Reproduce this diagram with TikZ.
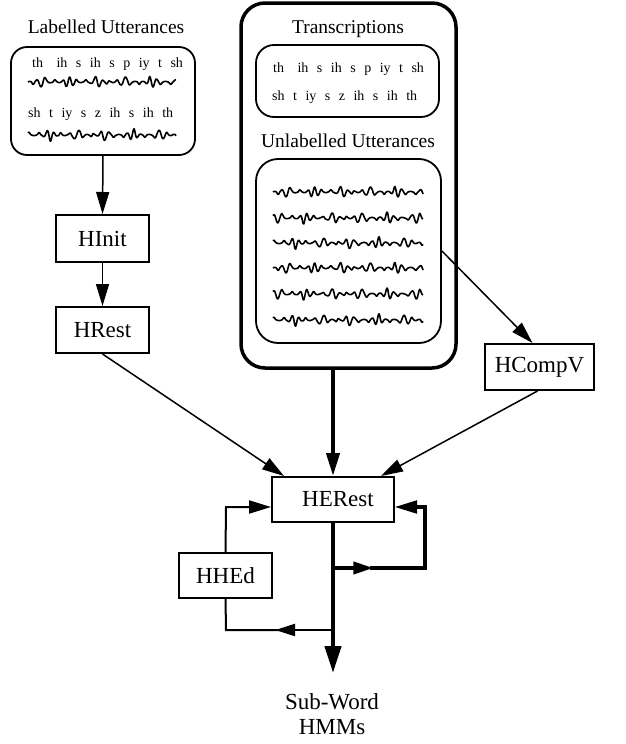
\documentclass[tikz,border=0pt]{standalone}
\usepackage{fontspec}
\setmainfont{Liberation Serif}
\usetikzlibrary{arrows.meta,calc}
\newcommand{\phonline}[1]{{\spaceskip=8.5pt\relax #1}}
\tikzset{
  lbl/.style={font=\fontsize{19.5}{22}\selectfont, inner sep=0pt, anchor=base},
  phon/.style={font=\fontsize{14}{16}\selectfont, inner sep=0pt, anchor=base west},
  rbox/.style={draw, line width=1.8pt, rounded corners=16pt, inner sep=0pt},
  bigbox/.style={draw, line width=3.5pt, rounded corners=24pt, inner sep=0pt},
  tool/.style={draw, line width=2pt, inner sep=0pt, font=\fontsize{23}{26}\selectfont},
  arr/.style={line width=1.5pt, -{Triangle[length=22pt,width=13pt]}},
  thickarr/.style={line width=4pt, -{Triangle[length=23pt,width=13pt]}},
  midarr/.style={-{Triangle[length=20pt,width=12pt]}},
  pics/wave/.style={code={\draw[line width=1.6pt, line join=round]
    plot[domain=0:#1, samples=220, smooth]
    (\x, {-(0.6+4.4*(sin(6.5*\x+\wph))^6+1.8*(sin(17*\x+2*\wph))^8)*sin(45*\x+60*sin(9*\x+\wph))});}},
}
\newcommand{\wph}{0}
\begin{document}
\begin{tikzpicture}[x=1pt,y=-1pt]
\useasboundingbox (0,0) rectangle (625,744);

% Labelled utterances
\node[lbl] (ltitle) at (106,33) {Labelled Utterances};
\node[rbox, minimum width=184pt, minimum height=108pt] (lbox) at (103,101) {};
\node[phon] (lp1) at (32,67) {\phonline{th\hspace{5pt} ih s ih s p iy t sh}};
\node[phon] (lp2) at (28,117) {\phonline{sh t iy s z ih s ih th}};
\renewcommand{\wph}{0}\pic at (28,82) {wave=148};
\renewcommand{\wph}{130}\pic at (28,135) {wave=148};

% left chain
\node[tool, minimum width=93pt, minimum height=47pt] (hinit) at (102.5,238.5) {HInit};
\node[tool, minimum width=93pt, minimum height=46pt] (hrest) at (102.5,330) {HRest};

% big box
\node[bigbox, minimum width=215pt, minimum height=365pt] (big) at (348.5,185.5) {};
\node[lbl] (ttitle) at (348,33) {Transcriptions};
\node[rbox, minimum width=183pt, minimum height=72pt, rounded corners=18pt] (tbox) at (347.5,81) {};
\node[phon] (tp1) at (273,72) {\phonline{th\hspace{5pt} ih s ih s p iy t sh}};
\node[phon] (tp2) at (272,100) {\phonline{sh t iy s z ih s ih th}};
\node[lbl] (utitle) at (348,147) {Unlabelled Utterances};
\node[rbox, minimum width=185pt, minimum height=184pt, rounded corners=22pt] (ubox) at (348.5,251) {};
\renewcommand{\wph}{0}\pic at (273,192) {wave=150};
\renewcommand{\wph}{60}\pic at (273,218) {wave=150};
\renewcommand{\wph}{130}\pic at (273,243) {wave=150};
\renewcommand{\wph}{0}\pic at (273,268) {wave=150};
\renewcommand{\wph}{60}\pic at (273,294) {wave=150};
\renewcommand{\wph}{130}\pic at (273,320) {wave=150};

% right
\node[tool, minimum width=109pt, minimum height=46pt] (hcompv) at (539.5,367) {HCompV};

% central
\node[tool, minimum width=122pt, minimum height=45pt] (herest) at (333,499.5) {\hspace{10pt}HERest};
\node[tool, minimum width=93pt, minimum height=45pt] (hhed) at (225.5,575.5) {HHEd};
\node[font=\fontsize{23}{25}\selectfont, align=center, inner sep=0pt] (out) at (332,714) {Sub-Word\\HMMs};

\coordinate (tip) at (333,673);
\coordinate (b1) at (333,568);
\coordinate (r1) at (425,568);
\coordinate (r2) at (425,507);
\coordinate (b2) at (333,630);
\coordinate (l2) at (226,630);
\coordinate (l1) at (226,507);

% connectors
\draw[arr] (lbox.south) -- (hinit.north);
\draw[arr] (hinit.south) -- (hrest.north);
\draw[arr] (hrest.south) -- ($(herest.north west)+(13,0)$);
\draw[arr] (ubox.east) -- ($(hcompv.north)+(-7,0)$);
\draw[arr] ($(hcompv.south)+(-2,0)$) -- ($(herest.north east)+(-14,0)$);
\draw[thickarr] (big.south -| herest.north) -- (herest.north);
\draw[line width=4.3pt, -{Triangle[length=27pt,width=16pt]}] (herest.south) -- (tip);
% right loop
\draw[line width=3.5pt, midarr] (b1) -- ($(b1)!0.44!(r1)$);
\draw[line width=3.5pt, line join=miter] ($(b1)!0.4!(r1)$) -- (r1) -- (r2) -- ($(r2)+(-12,0)$);
\draw[line width=2pt, -{Triangle[length=22pt,width=13pt]}] ($(r2)+(-12,0)$) -- (r2 -| herest.east);
% left loop
\draw[line width=2.5pt, midarr] (b2) -- ($(b2)!0.54!(l2)$);
\draw[line width=2pt] ($(b2)!0.5!(l2)$) -- (l2) -- (hhed.south);
\draw[line width=2pt, -{Triangle[length=22pt,width=13pt]}] (hhed.north) -- (l1) -- (l1 -| herest.west);
\end{tikzpicture}
\end{document}
